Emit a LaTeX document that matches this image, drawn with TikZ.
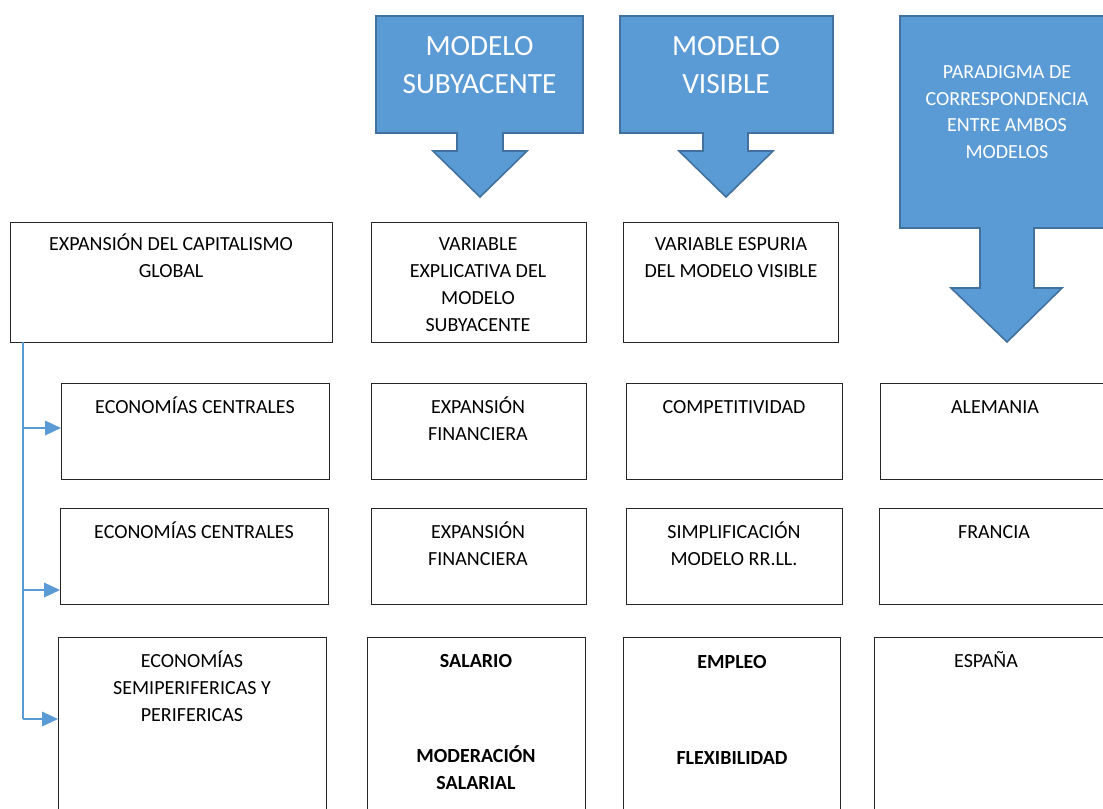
\documentclass[tikz,border=0pt]{standalone}
\usepackage{fontspec}
\setmainfont{Carlito}
\usetikzlibrary{arrows.meta}
\definecolor{ablue}{HTML}{5B9BD5}
\definecolor{aedge}{HTML}{41719C}
\begin{document}
\begin{tikzpicture}[x=0.75pt,y=-0.75pt,
  box/.style={draw=black!85, line width=0.8pt, anchor=north west, inner sep=0pt},
  tx/.style={font=\fontsize{15}{20.25}\selectfont, align=center, anchor=north, inner sep=0pt},
  btx/.style={tx, font=\fontsize{15}{20.25}\selectfont\bfseries},
  bigtx/.style={font=\fontsize{22}{28.5}\selectfont, text=white, align=center, anchor=north, inner sep=0pt},
  partx/.style={font=\fontsize{15}{19.9}\selectfont, text=white, align=center, anchor=north, inner sep=0pt},
  barrow/.style={fill=ablue, draw=aedge, line width=1.2pt, line join=miter},
  link/.style={draw=ablue, line width=0.9pt},
  linkarrow/.style={link, -{Triangle[length=12pt,width=11pt]}}]
\useasboundingbox (0,0) rectangle (1103,808);
\clip (0,0) rectangle (1103,808);
\fill[white] (0,0) rectangle (1103,808);

% big blue arrows
\draw[barrow] (376,16) -- (583,16) -- (583,133) -- (503,133) -- (503,151) -- (527,151) -- (480,197) -- (433,151) -- (457,151) -- (457,133) -- (376,133) -- cycle;
\node[bigtx] (m1) at (479.5,29) {\strut MODELO\\SUBYACENTE};
\draw[barrow] (620,16) -- (833,16) -- (833,133) -- (748,133) -- (748,151) -- (773,151) -- (726,197) -- (679,151) -- (703,151) -- (703,133) -- (620,133) -- cycle;
\node[bigtx] (m2) at (726,29) {\strut MODELO\\VISIBLE};
\draw[barrow] (900,16) -- (1114,16) -- (1114,228) -- (1034,228) -- (1034,288) -- (1062,288) -- (1007,342) -- (951,288) -- (980,288) -- (980,228) -- (900,228) -- cycle;
\node[partx] (m3) at (1007,60) {\strut PARADIGMA DE\\CORRESPONDENCIA\\ENTRE AMBOS\\MODELOS};

% boxes
\node[box, minimum width={(332-10)*0.75pt}, minimum height={(342-222)*0.75pt}] (A) at (10,222) {};
\node[box, minimum width={(586-371)*0.75pt}, minimum height={(342-222)*0.75pt}] (B) at (371,222) {};
\node[box, minimum width={(838-623)*0.75pt}, minimum height={(342-222)*0.75pt}] (C) at (623,222) {};

\node[box, minimum width={(329-61)*0.75pt}, minimum height={(479-383)*0.75pt}] (D) at (61,383) {};
\node[box, minimum width={(586-371)*0.75pt}, minimum height={(479-383)*0.75pt}] (E) at (371,383) {};
\node[box, minimum width={(842-626)*0.75pt}, minimum height={(479-383)*0.75pt}] (F) at (626,383) {};
\node[box, minimum width={(1110-880)*0.75pt}, minimum height={(479-383)*0.75pt}] (G) at (880,383) {};

\node[box, minimum width={(328-60)*0.75pt}, minimum height={(604-508)*0.75pt}] (H) at (60,508) {};
\node[box, minimum width={(586-371)*0.75pt}, minimum height={(604-508)*0.75pt}] (I) at (371,508) {};
\node[box, minimum width={(842-626)*0.75pt}, minimum height={(604-508)*0.75pt}] (J) at (626,508) {};
\node[box, minimum width={(1110-879)*0.75pt}, minimum height={(604-508)*0.75pt}] (K) at (879,508) {};

\node[box, minimum width={(326-58)*0.75pt}, minimum height={(830-637)*0.75pt}] (L) at (58,637) {};
\node[box, minimum width={(585-367)*0.75pt}, minimum height={(830-637)*0.75pt}] (M) at (367,637) {};
\node[box, minimum width={(840-623)*0.75pt}, minimum height={(830-637)*0.75pt}] (N) at (623,637) {};
\node[box, minimum width={(1110-874)*0.75pt}, minimum height={(830-637)*0.75pt}] (O) at (874,637) {};

% texts
\node[tx] (tA) at (171,231.5) {\strut EXPANSIÓN DEL CAPITALISMO\\GLOBAL};
\node[tx] (tB) at (478,231.5) {\strut VARIABLE\\EXPLICATIVA DEL\\MODELO\\SUBYACENTE};
\node[tx] (tC) at (731,231.5) {\strut VARIABLE ESPURIA\\DEL MODELO VISIBLE};
\node[tx] (tD) at (195,394.5) {\strut ECONOMÍAS CENTRALES};
\node[tx] (tE) at (478,394.5) {\strut EXPANSIÓN\\FINANCIERA};
\node[tx] (tF) at (734,394.5) {\strut COMPETITIVIDAD};
\node[tx] (tG) at (995,394.5) {\strut ALEMANIA};
\node[tx] (tH) at (194,519.5) {\strut ECONOMÍAS CENTRALES};
\node[tx] (tI) at (478,519.5) {\strut EXPANSIÓN\\FINANCIERA};
\node[tx] (tJ) at (734,519.5) {\strut SIMPLIFICACIÓN\\MODELO RR.LL.};
\node[tx] (tK) at (994,519.5) {\strut FRANCIA};
\node[tx] (tL) at (192,648.5) {\strut ECONOMÍAS\\SEMIPERIFERICAS Y\\PERIFERICAS};
\node[btx] (tM1) at (476,648.5) {\strut SALARIO};
\node[btx] (tM2) at (476,743.5) {\strut MODERACIÓN\\SALARIAL};
\node[btx] (tN1) at (732,649.5) {\strut EMPLEO};
\node[btx] (tN2) at (732,745.5) {\strut FLEXIBILIDAD};
\node[tx] (tO) at (986,648.5) {\strut ESPAÑA};

% left connectors
\coordinate (t0) at (23,342);
\coordinate (t1) at (23,428);
\coordinate (t2) at (23,590);
\coordinate (t3) at (23,719);
\draw[link] (t0) -- (t3);
\draw[linkarrow] (t1) -- (t1 -| D.west);
\draw[linkarrow] (t2) -- (t2 -| H.west);
\draw[linkarrow] (t3) -- (t3 -| L.west);
\end{tikzpicture}
\end{document}
